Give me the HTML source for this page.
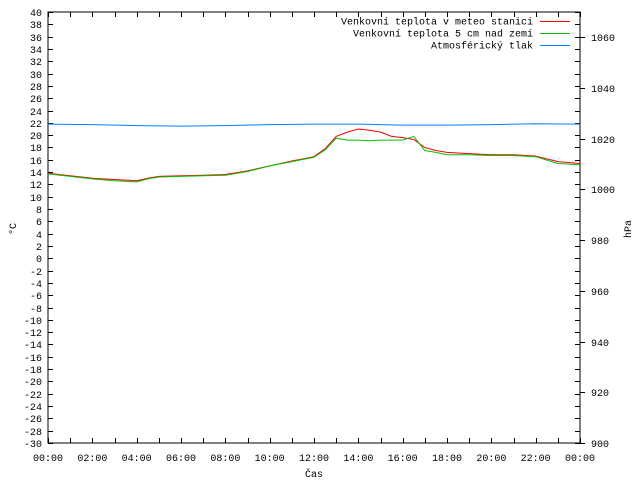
<!DOCTYPE html>
<html><head><meta charset="utf-8"><style>
body{margin:0;background:#fff}
svg{display:block;font-family:"Liberation Mono",monospace;font-size:10px}
</style></head><body>
<svg id="c" width="640" height="480" xmlns="http://www.w3.org/2000/svg"></svg>
<script>
const hours=[0,1,2,3,4,4.5,5,6,7,8,9,10,11,12,12.5,13,13.5,14,14.5,15,15.5,16,16.5,17,17.5,18,19,20,21,22,23,24];
const temp5cm=[13.8,13.4,13.0,12.8,12.6,13.0,13.3,13.4,13.5,13.6,14.2,15.0,15.8,16.5,17.8,19.8,20.5,21.0,20.8,20.5,19.8,19.6,19.3,18.0,17.5,17.2,17.0,16.8,16.8,16.6,15.7,15.4];
const tempStation=[13.7,13.3,12.9,12.6,12.4,12.9,13.2,13.3,13.4,13.5,14.1,15.0,15.7,16.4,17.6,19.5,19.2,19.2,19.1,19.2,19.2,19.2,19.8,17.5,17.2,16.8,16.8,16.7,16.7,16.5,15.4,15.2];
const pHours=[0,2,4,6,8,10,12,14,16,18,20,22,24];
const pressure=[1025.8,1025.6,1025.2,1025.0,1025.2,1025.6,1025.8,1025.8,1025.4,1025.4,1025.6,1025.9,1025.8];
const xLabels=["00:00","02:00","04:00","06:00","08:00","10:00","12:00","14:00","16:00","18:00","20:00","22:00","00:00"];
const y2Labels=[900,920,940,960,980,1000,1020,1040,1060];

const L=48,R=580,T=12,B=443;
const x=h=>L+h*(R-L)/24;
const y=t=>B-(t+30)*(B-T)/70;
const y2=p=>B-(p-900)*(B-T)/170;
const svg=document.getElementById('c');
const NS='http://www.w3.org/2000/svg';
function mk(tag,attrs,parent){const e=document.createElementNS(NS,tag);for(const k in attrs)e.setAttribute(k,attrs[k]);(parent||svg).appendChild(e);return e;}
function txt(s,xx,yy,anchor,name){const e=mk('text',{x:xx,y:yy,'text-anchor':anchor,fill:'#000'});e.textContent=s;


return e;}

const frame=mk('rect',{x:L,y:T,width:R-L,height:B-T,fill:'none',stroke:'#000','stroke-width':1});


let d='';
for(let t=-30;t<=40;t+=2){const yy=Math.round(y(t))+0.5;d+=`M${L},${yy}h5M${R},${yy}h-5`;
txt(String(t),42,yy+3.5,'end','y-tick-label');}
for(let h=0;h<=24;h++){const xx=Math.round(x(h))+0.5;d+=`M${xx},${B}v-5M${xx},${T}v5`;}
for(let i=0;i<xLabels.length;i++){txt(xLabels[i],x(i*2),461,'middle','x-tick-label');}
for(const p of y2Labels){const yy=Math.round(y2(p))+0.5;d+=`M${R},${yy}h5`;txt(String(p),591,yy+3.5,'start','y2-tick-label');}
const ticks=mk('path',{d:d,stroke:'#000','stroke-width':1,fill:'none'});



const yt=mk('text',{transform:'translate(16,229) rotate(-90)','text-anchor':'middle'});yt.textContent='°C';


const y2t=mk('text',{transform:'translate(631,229) rotate(-90)','text-anchor':'middle'});y2t.textContent='hPa';


txt('Čas',314,477,'middle','x-axis-title');

function line(xs,ys,fx,fy,color,name){const pts=xs.map((h,i)=>fx(h).toFixed(1)+','+fy(ys[i]).toFixed(1)).join(' ');
const p=mk('polyline',{points:pts,fill:'none',stroke:color,'stroke-width':1});

}
line(pHours,pressure,x,y2,'#0080ff','pressure-line');
line(hours,temp5cm,x,y,'#ff0000','temp-5cm-line');
line(hours,tempStation,x,y,'#00c000','temp-station-line');

const leg=[['Venkovní teplota v meteo stanici','#ff0000'],['Venkovní teplota 5 cm nad zemí','#00c000'],['Atmosférický tlak','#0080ff']];
leg.forEach((l,i)=>{const yy=21+i*12;txt(l[0],533,yy+3.5,'end','legend-label');
const ln=mk('line',{x1:540,x2:570,y1:yy+0.5,y2:yy+0.5,stroke:l[1],'stroke-width':1});

});
</script>
</body></html>
